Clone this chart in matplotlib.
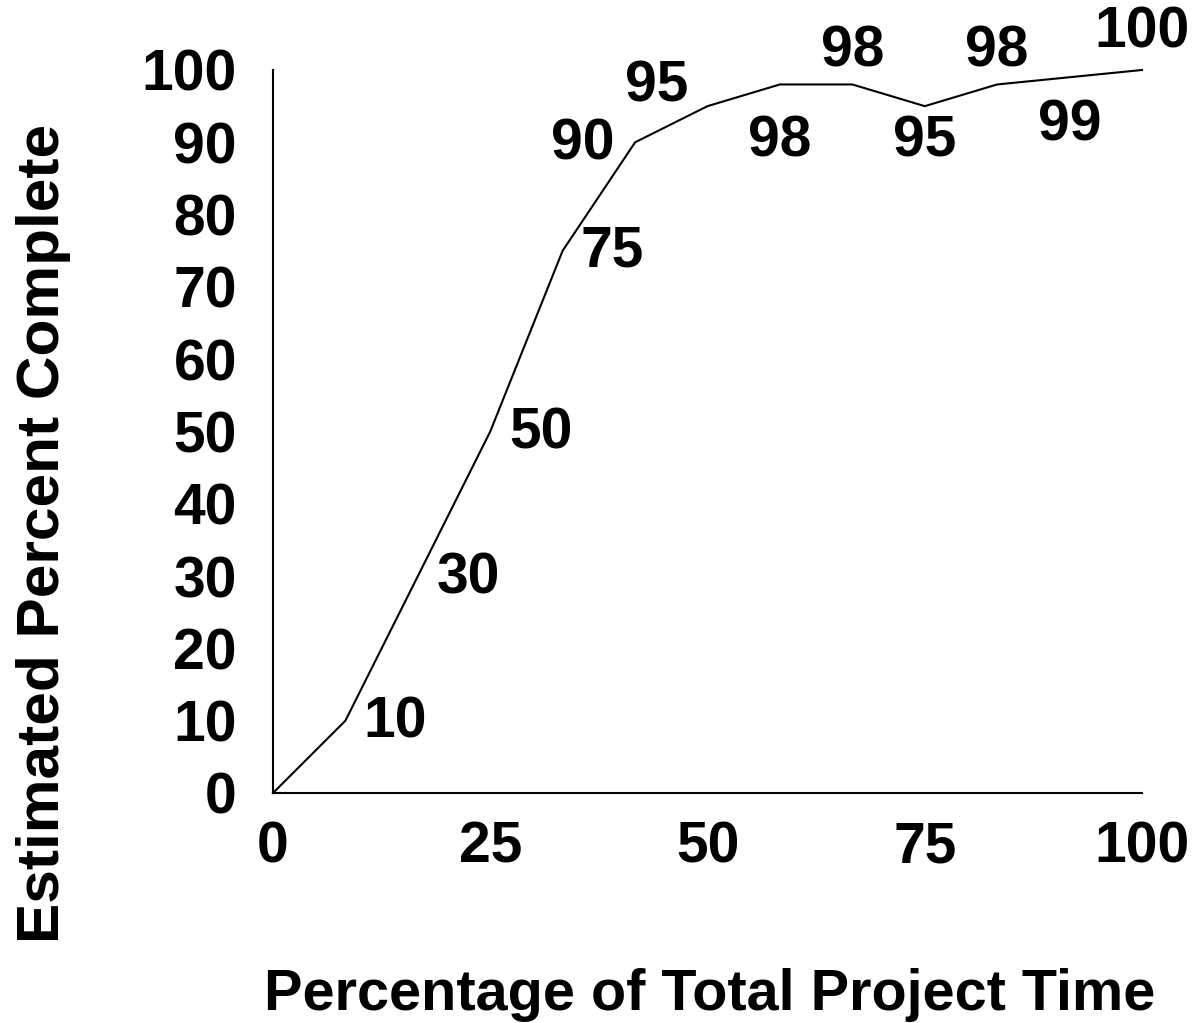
import matplotlib
matplotlib.use("Agg")
import matplotlib.pyplot as plt

# Data
x_vals = [0, 8.33, 16.67, 25, 33.33, 41.67, 50, 58.33, 66.67, 75, 83.33, 91.67, 100]
y_vals = [0, 10, 30, 50, 75, 90, 95, 98, 98, 95, 98, 99, 100]
x_ticks = [0, 25, 50, 75, 100]
y_ticks = [0, 10, 20, 30, 40, 50, 60, 70, 80, 90, 100]
x_label = "Percentage of Total Project Time"
y_label = "Estimated Percent Complete"

# label offsets (pixels) for point labels, index-aligned with the points (first point unlabeled)
label_offsets = [None, (50, -2), (50, -2), (51, -2), (50, -1), (-52, -2), (-51, 20),
                 (0, -57), (0, 33), (0, -35), (0, 33), (0, -48), (0, 37)]

plt.rcParams['font.family'] = ['Liberation Sans', 'DejaVu Sans']
FS = 41

fig = plt.figure(figsize=(11.96, 10.23), dpi=100)
ax = fig.add_axes([273/1196, 1 - 793/1023, (1142 - 273)/1196, (793 - 70)/1023])

ax.plot(x_vals, y_vals, color='black', linewidth=1.5, clip_on=False)

for xv, yv, off in zip(x_vals, y_vals, label_offsets):
    if off is None:
        continue
    ax.annotate(str(yv), (xv, yv), xytext=off, textcoords='offset pixels',
                ha='center', va='center', fontsize=FS, fontweight='bold', color='black')

ax.set_xlim(0, 100)
ax.set_ylim(0, 100)
ax.set_xticks(x_ticks)
ax.set_yticks(y_ticks)
ax.set_xticklabels([str(t) for t in x_ticks], fontsize=FS, fontweight='bold')
ax.set_yticklabels([str(t) for t in y_ticks], fontsize=FS, fontweight='bold')
ax.tick_params(axis='x', length=0, pad=20)
ax.tick_params(axis='y', length=0, pad=26)

for s in ['top', 'right']:
    ax.spines[s].set_visible(False)
for s in ['left', 'bottom']:
    ax.spines[s].set_linewidth(1.5)
    ax.spines[s].set_color('black')

fig.text(710/1196, 1 - 995/1023, x_label, ha='center', va='center',
         fontsize=FS + 0.5, fontweight='bold')
fig.text(44/1196, 1 - 533/1023, y_label, ha='center', va='center', rotation=90,
         fontsize=FS + 2.5, fontweight='bold')

fig.savefig('out.png', dpi=100)
